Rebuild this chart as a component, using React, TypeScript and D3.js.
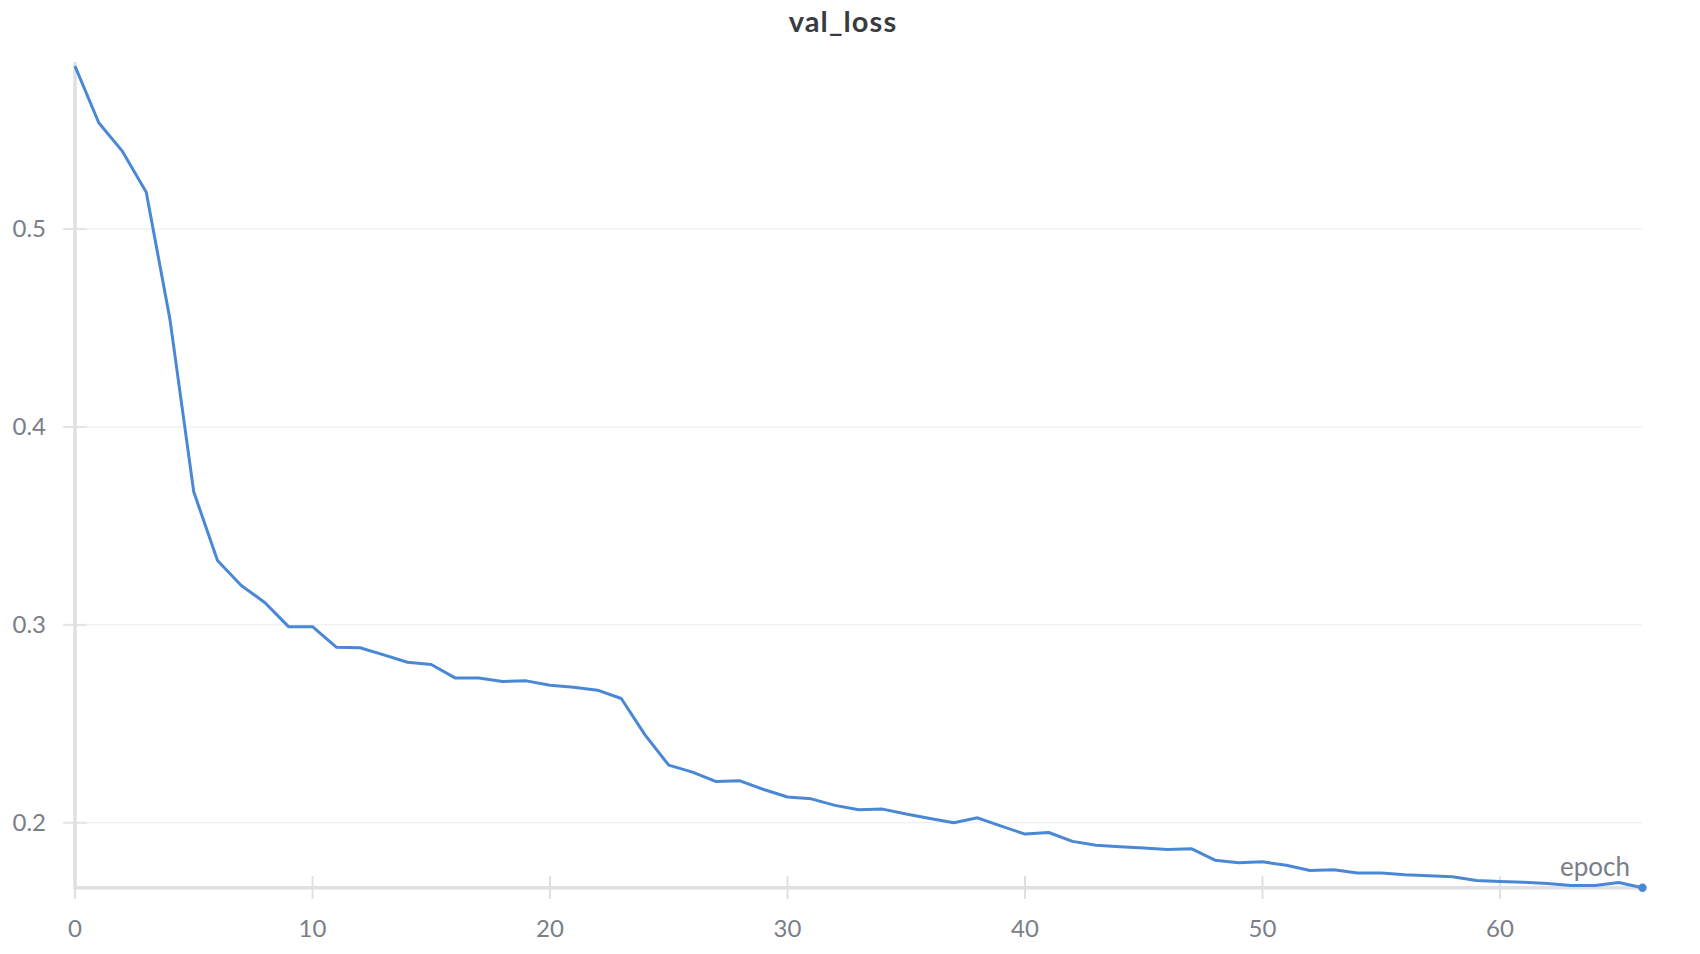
import React from "react";
import * as d3 from "d3";

const epochs: number[] = Array.from({ length: 67 }, (_, i) => i);
const valLoss: number[] = [
  0.5823, 0.5537, 0.5392, 0.5186, 0.4542, 0.3672, 0.3325, 0.3199, 0.3112, 0.2990,
  0.2991, 0.2887, 0.2884, 0.2848, 0.2811, 0.2800, 0.2732, 0.2732, 0.2714, 0.2717,
  0.2695, 0.2685, 0.2670, 0.2628, 0.2444, 0.2291, 0.2256, 0.2208, 0.2212, 0.2168,
  0.2130, 0.2121, 0.2088, 0.2066, 0.2069, 0.2044, 0.2022, 0.2000, 0.2025, 0.1983,
  0.1943, 0.1951, 0.1906, 0.1886, 0.1879, 0.1872, 0.1865, 0.1869, 0.1811, 0.1798,
  0.1803, 0.1785, 0.1759, 0.1763, 0.1746, 0.1746, 0.1737, 0.1732, 0.1727, 0.1708,
  0.1703, 0.1700, 0.1693, 0.1683, 0.1683, 0.1698, 0.1672,
];
const xTicks: number[] = [0, 10, 20, 30, 40, 50, 60];
const yTicks: number[] = [0.2, 0.3, 0.4, 0.5];
const title = "val_loss";
const xLabel = "epoch";

export default function App() {
  const W = 1700;
  const H = 954;
  const left = 75;
  const right = 1642.5;
  const top = 66.1;
  const bottom = 887.7;

  const x = d3.scaleLinear().domain([0, 66]).range([left, right]);
  const ext = d3.extent(valLoss) as [number, number];
  const y = d3.scaleLinear().domain(ext).range([bottom, top]);

  const line = d3
    .line<number>()
    .x((_, i) => x(epochs[i]))
    .y((d) => y(d));

  const font = "Lato, 'Noto Sans', sans-serif";
  const last = valLoss.length - 1;

  return (
    <svg
      width={W}
      height={H}
      style={{ position: "absolute", left: 0, top: 0, background: "#fff" }}
    >
      <text
        x={843}
        y={32}
        textAnchor="middle"
        fontFamily={font}
        fontWeight={700}
        fontSize={29}
        letterSpacing={1.1}
        fill="#383b42"
      >
        {title}
      </text>

      {yTicks.map((t) => (
        <g key={"y" + t}>
          <line x1={left} x2={right} y1={y(t)} y2={y(t)} stroke="#ebebed" strokeWidth={1} />
          <line x1={63} x2={87} y1={y(t)} y2={y(t)} stroke="#e4e4e6" strokeWidth={2} />
          <text
            x={46}
            y={y(t)}
            dy="0.35em"
            textAnchor="end"
            fontFamily={font}
            fontSize={24}
            fill="#7a7e89"
          >
            {d3.format(".1f")(t)}
          </text>
        </g>
      ))}

      <line x1={left} x2={left} y1={top - 4} y2={bottom + 2} stroke="#e0e0e3" strokeWidth={3.5} />
      <line x1={left - 1.5} x2={right} y1={bottom} y2={bottom} stroke="#e0e0e3" strokeWidth={3.5} />

      {xTicks.map((t) => (
        <g key={"x" + t}>
          <line x1={x(t)} x2={x(t)} y1={876} y2={899} stroke="#e0e0e3" strokeWidth={2} />
          <text
            x={x(t)}
            y={937}
            textAnchor="middle"
            fontFamily={font}
            fontSize={24}
            fill="#7a7e89"
          >
            {t}
          </text>
        </g>
      ))}

      <path d={line(valLoss) || ""} fill="none" stroke="#4a88d6" strokeWidth={3} strokeLinejoin="round" />
      <circle cx={x(epochs[last])} cy={y(valLoss[last])} r={4.2} fill="#4a88d6" />

      <text
        x={1630}
        y={876}
        textAnchor="end"
        fontFamily={font}
        fontSize={26}
        fill="#7a7e89"
      >
        {xLabel}
      </text>
    </svg>
  );
}
